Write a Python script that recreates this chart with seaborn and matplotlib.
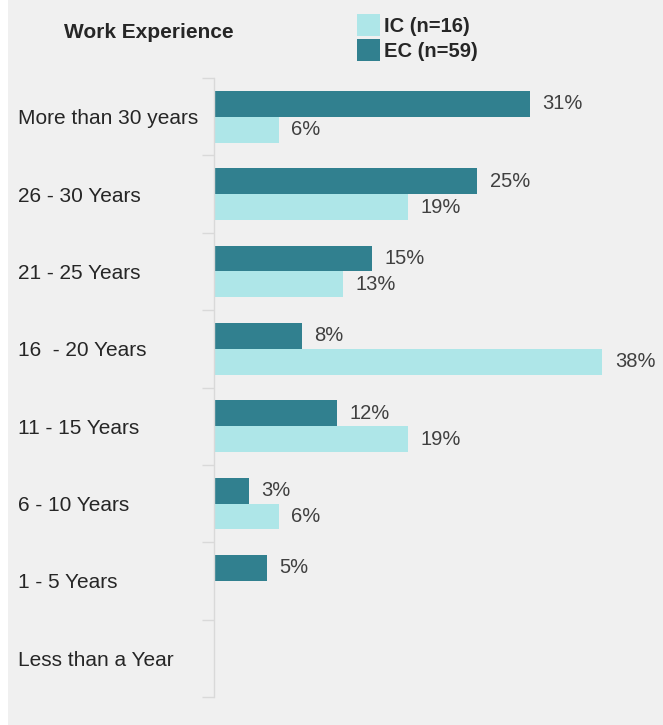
import pandas as pd
import matplotlib.pyplot as plt
import matplotlib.patches as mpatches
import seaborn as sns

# categories, top to bottom
categories = ['More than 30 years', '26 - 30 Years', '21 - 25 Years', '16  - 20 Years',
              '11 - 15 Years', '6 - 10 Years', '1 - 5 Years', 'Less than a Year']
# shares in percent
ec_values = [30.51, 25.42, 15.25, 8.47, 11.86, 3.39, 5.08, 0]
ic_values = [6.25, 18.75, 12.5, 37.5, 18.75, 6.25, 0, 0]
group_names = ['EC', 'IC']
legend_labels = {'IC': 'IC (n=16)', 'EC': 'EC (n=59)'}
colors = {'EC': '#31808f', 'IC': '#aee6e8'}

df = pd.DataFrame({
    'category': categories * 2,
    'value': ec_values + ic_values,
    'group': ['EC'] * len(categories) + ['IC'] * len(categories),
})

sns.set_style('white')
plt.rcParams['font.family'] = ['Liberation Sans', 'DejaVu Sans']

bg = '#f0f0f0'
fig = plt.figure(figsize=(6.63, 7.25), dpi=100, facecolor='white')
fig.patches.append(mpatches.Rectangle((8 / 663, 0), 1, 1, transform=fig.transFigure,
                                      facecolor=bg, edgecolor='none', zorder=-10))
ax = fig.add_axes([214 / 663, 1 - 697 / 725, 441 / 663, (697 - 78) / 725])
ax.set_facecolor(bg)

sns.barplot(data=df, y='category', x='value', hue='group', hue_order=group_names,
            order=categories, palette=colors, saturation=1, width=0.67,
            orient='h', ax=ax, legend=False, linewidth=0)

# percent labels
for container, vals in zip(ax.containers, [ec_values, ic_values]):
    labels = [f'{int(v + 0.5)}%' if v > 0 else '' for v in vals]
    ax.bar_label(container, labels=labels, padding=9, fontsize=14.5, color='#404040')

ax.set_xlim(0, 42.6)
ax.set_ylim(len(categories) - 0.5, -0.5)
ax.set_xlabel('')
ax.set_ylabel('')
ax.set_xticks([])

for s in ['top', 'right', 'bottom']:
    ax.spines[s].set_visible(False)
ax.spines['left'].set_color('#d9d9d9')
ax.spines['left'].set_linewidth(1)

ax.set_yticks(range(len(categories)))
ax.set_yticklabels(categories, fontsize=15, color='#262626', ha='left')
ax.tick_params(axis='y', which='major', left=True, length=0, pad=141)
ax.set_yticks([i - 0.5 for i in range(len(categories) + 1)], minor=True)
ax.tick_params(axis='y', which='minor', left=True, length=9, color='#d9d9d9', width=1)

fig.text(64 / 663, 1 - 32 / 725, 'Work Experience', fontsize=15, fontweight='bold',
         color='#262626', va='center', ha='left')

handles = [mpatches.Patch(facecolor=colors[g], edgecolor='none') for g in ['IC', 'EC']]
fig.legend(handles, [legend_labels['IC'], legend_labels['EC']],
           loc='upper left', bbox_to_anchor=(349 / 663, 1 - 6 / 725),
           frameon=False, handlelength=1.15, handleheight=1.3, handletextpad=0.2,
           labelspacing=0.15, borderaxespad=0,
           prop={'size': 14.5, 'weight': 'bold'}, labelcolor='#262626')

fig.savefig('out.png', dpi=100, facecolor=fig.get_facecolor())
